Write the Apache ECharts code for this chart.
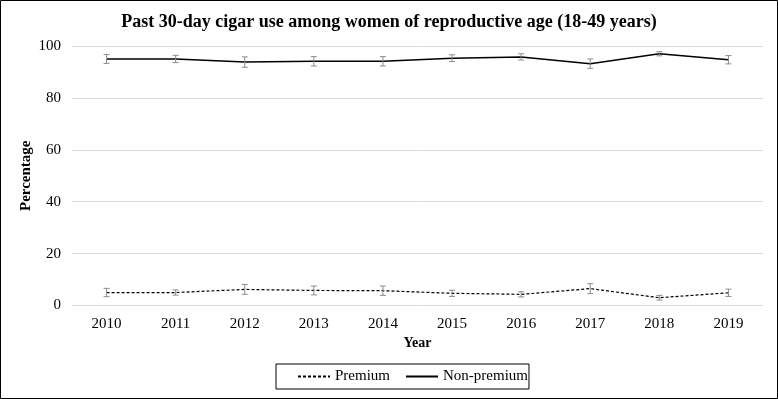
<!DOCTYPE html>
<html><head><meta charset="utf-8">
<script src="https://cdn.jsdelivr.net/npm/echarts@6/dist/echarts.min.js"></script>
<style>html,body{margin:0;padding:0;background:#fff}#c{width:778px;height:399px}</style>
</head><body><div id="c"></div>
<script>
const years = ['2010','2011','2012','2013','2014','2015','2016','2017','2018','2019'];
const nonPremium = [95.0, 95.0, 93.8, 94.1, 94.1, 95.3, 95.8, 93.2, 97.0, 94.7];
const nonPremiumErr = [1.7, 1.4, 2.0, 1.8, 1.8, 1.3, 1.2, 1.8, 0.8, 1.6];
const premium = [5.0, 5.0, 6.2, 5.8, 5.7, 4.7, 4.3, 6.5, 3.0, 4.9];
const premiumErr = [1.6, 1.0, 1.9, 1.7, 1.8, 1.2, 1.0, 1.9, 0.9, 1.4];
const yTicks = [0, 20, 40, 60, 80, 100];

const FONT = '"Liberation Serif","Times New Roman",serif';
function errData(vals, errs){ return vals.map((v,i)=>[i, v-errs[i], v+errs[i]]); }
function errRender(params, api){
  const x = api.value(0);
  const lo = api.coord([x, api.value(1)]);
  const hi = api.coord([x, api.value(2)]);
  const w = 3;
  const st = {stroke:'#8c8c8c', lineWidth:1};
  return {type:'group', children:[
    {type:'line', shape:{x1:lo[0],y1:lo[1],x2:hi[0],y2:hi[1]}, style:st},
    {type:'line', shape:{x1:lo[0]-w,y1:lo[1],x2:lo[0]+w,y2:lo[1]}, style:st},
    {type:'line', shape:{x1:hi[0]-w,y1:hi[1],x2:hi[0]+w,y2:hi[1]}, style:st}
  ]};
}
const chart = echarts.init(document.getElementById('c'));
chart.setOption({
  animation:false,
  title:{text:'Past 30-day cigar use among women of reproductive age (18-49 years)', left:'center', top:8,
    textStyle:{fontFamily:FONT, fontSize:18, fontWeight:'bold', color:'#000'}},
  grid:{left:72, right:15, top:46, bottom:93.5},
  legend:{bottom:10, left:276, itemWidth:32, itemHeight:14, itemGap:15, borderColor:'#000', borderWidth:1,
    padding:[5,1,5,21],
    itemStyle:{opacity:0},
    textStyle:{fontFamily:FONT, fontSize:15, color:'#000'},
    data:['Premium','Non-premium']},
  xAxis:{type:'category', data:years, boundaryGap:true, name:'Year', nameLocation:'middle', nameGap:30,
    nameTextStyle:{fontFamily:FONT, fontSize:14, fontWeight:'bold', color:'#000'},
    axisLine:{show:false}, axisTick:{show:false},
    axisLabel:{fontFamily:FONT, fontSize:15, color:'#000', margin:11}},
  yAxis:{type:'value', min:0, max:100, interval:20, name:'Percentage', nameLocation:'middle', nameGap:38, nameMoveOverlap:false,
    nameTextStyle:{fontFamily:FONT, fontSize:15, fontWeight:'bold', color:'#000'},
    axisLine:{show:false}, axisTick:{show:false},
    axisLabel:{fontFamily:FONT, fontSize:15, color:'#000', margin:11, formatter:v=>yTicks.includes(v)?String(v):''},
    splitLine:{lineStyle:{color:'#d9d9d9', width:1}}},
  series:[
    {name:'Premium', type:'line', data:premium, symbol:'none', lineStyle:{color:'#000', width:1.2, type:[3,2]}, itemStyle:{color:'#000'}, z:3},
    {name:'Non-premium', type:'line', data:nonPremium, symbol:'none', lineStyle:{color:'#000', width:1.5}, itemStyle:{color:'#000'}, z:3},
    {type:'custom', data:errData(premium, premiumErr), renderItem:errRender, z:4, encode:{x:0,y:[1,2]}},
    {type:'custom', data:errData(nonPremium, nonPremiumErr), renderItem:errRender, z:4, encode:{x:0,y:[1,2]}}
  ],
  graphic:[{type:'rect', shape:{x:0.5,y:0.5,width:777,height:398}, style:{fill:'none', stroke:'#000', lineWidth:1}, silent:true}]
});
</script></body></html>
